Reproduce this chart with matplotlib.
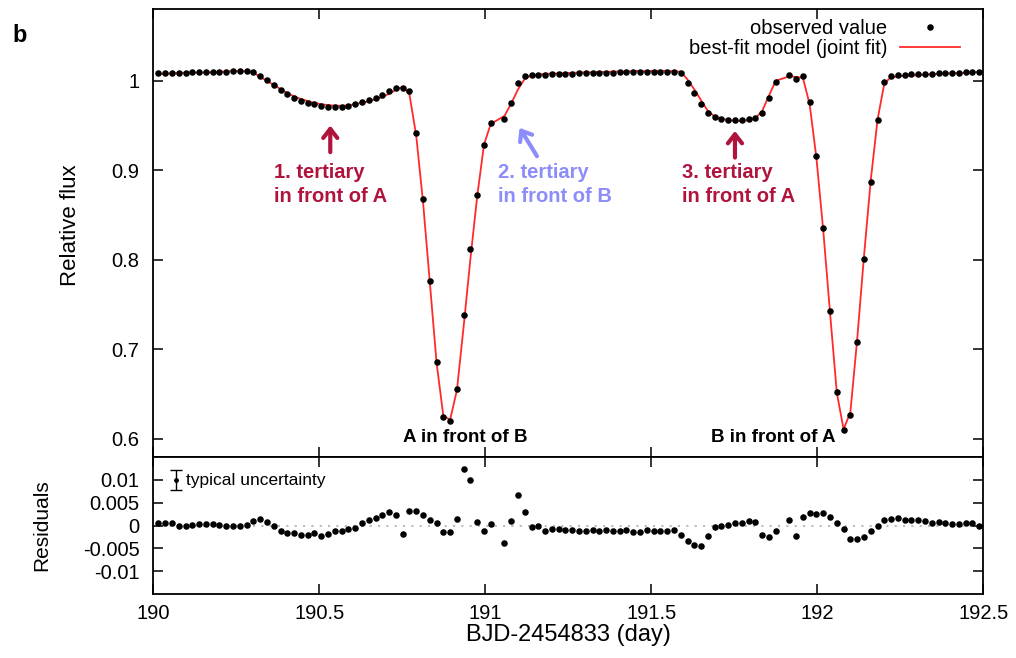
import numpy as np
import matplotlib
matplotlib.use('Agg')
import matplotlib.pyplot as plt

plt.rcParams.update({'font.family': ['Liberation Sans', 'DejaVu Sans'], 'font.size': 14.5,
    'axes.unicode_minus': False, 'axes.linewidth': 1.3,
    'xtick.direction': 'in', 'ytick.direction': 'in', 'xtick.top': True, 'ytick.right': True,
    'xtick.major.size': 7, 'ytick.major.size': 7, 'xtick.major.width': 1.1, 'ytick.major.width': 1.1})

# Kepler long-cadence times (BJD-2454833), two cadences missing
time = [190.0154, 190.0358, 190.0562, 190.0767, 190.0971, 190.1175, 190.1380, 190.1584, 190.1788, 190.1993,
        190.2197, 190.2402, 190.2606, 190.2810, 190.3015, 190.3219, 190.3423, 190.3628, 190.3832, 190.4036,
        190.4241, 190.4445, 190.4649, 190.4854, 190.5058, 190.5262, 190.5467, 190.5671, 190.5875, 190.6080,
        190.6284, 190.6488, 190.6693, 190.6897, 190.7101, 190.7306, 190.7510, 190.7714, 190.7919, 190.8123,
        190.8327, 190.8532, 190.8736, 190.8940, 190.9145, 190.9349, 190.9553, 190.9758, 190.9962, 191.0166,
        191.0575, 191.0779, 191.0984, 191.1188, 191.1392, 191.1597, 191.1801, 191.2005, 191.2210, 191.2414,
        191.2619, 191.2823, 191.3027, 191.3232, 191.3436, 191.3640, 191.3845, 191.4049, 191.4253, 191.4458,
        191.4662, 191.4866, 191.5071, 191.5275, 191.5479, 191.5684, 191.5888, 191.6092, 191.6297, 191.6501,
        191.6705, 191.6910, 191.7114, 191.7318, 191.7523, 191.7727, 191.7931, 191.8136, 191.8340, 191.8544,
        191.8749, 191.9157, 191.9362, 191.9566, 191.9770, 191.9975, 192.0179, 192.0383, 192.0588, 192.0792,
        192.0996, 192.1201, 192.1405, 192.1609, 192.1814, 192.2018, 192.2222, 192.2427, 192.2631, 192.2836,
        192.3040, 192.3244, 192.3449, 192.3653, 192.3857, 192.4062, 192.4266, 192.4470, 192.4675, 192.4879]

flux = [1.0080, 1.0082, 1.0085, 1.0086, 1.0088, 1.0091, 1.0093, 1.0095, 1.0097, 1.0099,
        1.0101, 1.0103, 1.0104, 1.0106, 1.0098, 1.0054, 1.0006, 0.9950, 0.9894, 0.9846,
        0.9808, 0.9775, 0.9752, 0.9734, 0.9715, 0.9708, 0.9708, 0.9708, 0.9715, 0.9734,
        0.9757, 0.9782, 0.9808, 0.9838, 0.9883, 0.9920, 0.9915, 0.9880, 0.9417, 0.8674,
        0.7766, 0.6855, 0.6241, 0.6200, 0.6557, 0.7383, 0.8116, 0.8722, 0.9277, 0.9522,
        0.9567, 0.9752, 0.9969, 1.0050, 1.0058, 1.0063, 1.0067, 1.0070, 1.0073, 1.0075,
        1.0078, 1.0080, 1.0082, 1.0084, 1.0086, 1.0088, 1.0090, 1.0091, 1.0092, 1.0094,
        1.0095, 1.0096, 1.0097, 1.0098, 1.0098, 1.0096, 1.0080, 0.9978, 0.9860, 0.9734,
        0.9638, 0.9596, 0.9574, 0.9563, 0.9555, 0.9555, 0.9568, 0.9588, 0.9641, 0.9808,
        0.9987, 1.0061, 1.0020, 1.0050, 0.9763, 0.9157, 0.8357, 0.7431, 0.6520, 0.6099,
        0.6267, 0.7078, 0.8008, 0.8871, 0.9559, 0.9980, 1.0054, 1.0063, 1.0066, 1.0069,
        1.0072, 1.0075, 1.0078, 1.0081, 1.0084, 1.0087, 1.0090, 1.0093, 1.0096, 1.0100]

resid = [0.0005, 0.0005, 0.0005, -0.0001, -0.0001, 0.0001, 0.0004, 0.0003, 0.0003, 0.0001,
         -0.0002, -0.0002, -0.0001, 0.0001, 0.0009, 0.0014, 0.0007, -0.0001, -0.0012, -0.0016,
         -0.0016, -0.0020, -0.0020, -0.0017, -0.0022, -0.0019, -0.0013, -0.0011, -0.0008, -0.0005,
         0.0005, 0.0012, 0.0016, 0.0022, 0.0029, 0.0024, -0.0018, 0.0031, 0.0032, 0.0024,
         0.0011, 0.0005, -0.0014, -0.0014, 0.0014, 0.0123, 0.0099, 0.0007, -0.0011, 0.0004,
         -0.0038, 0.0009, 0.0067, 0.0030, -0.0004, -0.0001, -0.0011, -0.0008, -0.0008, -0.0009,
         -0.0009, -0.0012, -0.0011, -0.0009, -0.0012, -0.0009, -0.0012, -0.0011, -0.0009, -0.0014,
         -0.0014, -0.0009, -0.0012, -0.0012, -0.0011, -0.0009, -0.0020, -0.0034, -0.0042, -0.0045,
         -0.0022, -0.0004, 0.0000, 0.0002, 0.0006, 0.0006, 0.0009, 0.0007, -0.0020, -0.0025,
         -0.0011, 0.0012, -0.0022, 0.0018, 0.0027, 0.0025, 0.0027, 0.0019, 0.0005, -0.0007,
         -0.0029, -0.0029, -0.0024, -0.0012, -0.0002, 0.0012, 0.0014, 0.0016, 0.0011, 0.0011,
         0.0011, 0.0009, 0.0005, 0.0007, 0.0006, 0.0004, 0.0004, 0.0006, 0.0005, 0.0000]

typ_err = 0.0022

t = np.array(time); f = np.array(flux); r = np.array(resid)
model = f - r

CRIMSON = '#b0143c'; LAVENDER = '#8c8cfa'
xt = [190, 190.5, 191, 191.5, 192, 192.5]; xtl = ['190', '190.5', '191', '191.5', '192', '192.5']

fig = plt.figure(figsize=(10.16, 6.58), dpi=100)
ax1 = fig.add_axes([0.1509, 0.3059, 0.8169, 0.6804])
ax2 = fig.add_axes([0.1509, 0.0968, 0.8169, 0.2091])

ax1.plot(t, f, 'o', color='black', ms=4.7, mew=0, label='observed value', zorder=3)
ax1.plot(t, model, '-', color='#ff2a2a', lw=1.3, label='best-fit model (joint fit)', zorder=2)
ax1.set_xlim(190, 192.5); ax1.set_ylim(0.58, 1.08)
ax1.set_xticks(xt); ax1.set_xticklabels([])
ax1.set_yticks([0.6, 0.7, 0.8, 0.9, 1.0]); ax1.set_yticklabels(['0.6', '0.7', '0.8', '0.9', '1'])
ax1.tick_params(axis='y', pad=10)
leg = ax1.legend(loc='upper right', bbox_to_anchor=(0.972, 0.978), frameon=False, markerfirst=False,
                 handlelength=3.0, handletextpad=0.6, labelspacing=0.05, borderpad=0, borderaxespad=0,
                 fontsize=14.5)

arrow = '->,head_width=0.35,head_length=0.45'
ax1.annotate('', xy=(190.533, 0.953), xytext=(190.533, 0.917),
             arrowprops=dict(arrowstyle=arrow, color=CRIMSON, lw=3))
ax1.annotate('', xy=(191.099, 0.950), xytext=(191.160, 0.913),
             arrowprops=dict(arrowstyle=arrow, color=LAVENDER, lw=3))
ax1.annotate('', xy=(191.752, 0.947), xytext=(191.752, 0.911),
             arrowprops=dict(arrowstyle=arrow, color=CRIMSON, lw=3))
for x0, txt, col in [(190.365, '1. tertiary\nin front of A', CRIMSON),
                     (191.039, '2. tertiary\nin front of B', LAVENDER),
                     (191.591, '3. tertiary\nin front of A', CRIMSON)]:
    ax1.text(x0, 0.884, txt, color=col, fontweight='bold', fontsize=14.5, ha='left', va='center', linespacing=1.3)
ax1.text(190.939, 0.601, 'A in front of B', fontweight='bold', fontsize=13.5, ha='center', va='center')
ax1.text(191.867, 0.601, 'B in front of A', fontweight='bold', fontsize=13.5, ha='center', va='center')

ax2.axhline(0, color='#bbbbbb', ls=(0, (1, 3)), lw=1.5, zorder=1)
ax2.plot(t, r, 'o', color='black', ms=4.7, mew=0, zorder=3)
ax2.errorbar([190.068], [0.0099], yerr=[typ_err], fmt='o', color='black', ms=2.5, capsize=4, lw=1, capthick=1)
ax2.text(190.099, 0.0099, 'typical uncertainty', fontsize=12.5, ha='left', va='center')
ax2.set_xlim(190, 192.5); ax2.set_ylim(-0.015, 0.015)
ax2.set_xticks(xt); ax2.set_xticklabels(xtl)
ax2.set_yticks([-0.01, -0.005, 0, 0.005, 0.01]); ax2.set_yticklabels(['-0.01', '-0.005', '0', '0.005', '0.01'])
ax2.tick_params(axis='y', pad=10); ax2.tick_params(axis='x', pad=7)

fig.text(70 / 1016, 1 - 225 / 658, 'Relative flux', rotation=90, ha='center', va='center', fontsize=16)
fig.text(42 / 1016, 1 - 525 / 658, 'Residuals', rotation=90, ha='center', va='center', fontsize=15)
fig.text(568 / 1016, 1 - 635 / 658, 'BJD-2454833 (day)', ha='center', va='center', fontsize=17)
fig.text(12 / 1016, 1 - 42 / 658, 'b', fontweight='bold', fontsize=17, ha='left', va='baseline')

plt.savefig('out.png', dpi=100)
plt.close()
